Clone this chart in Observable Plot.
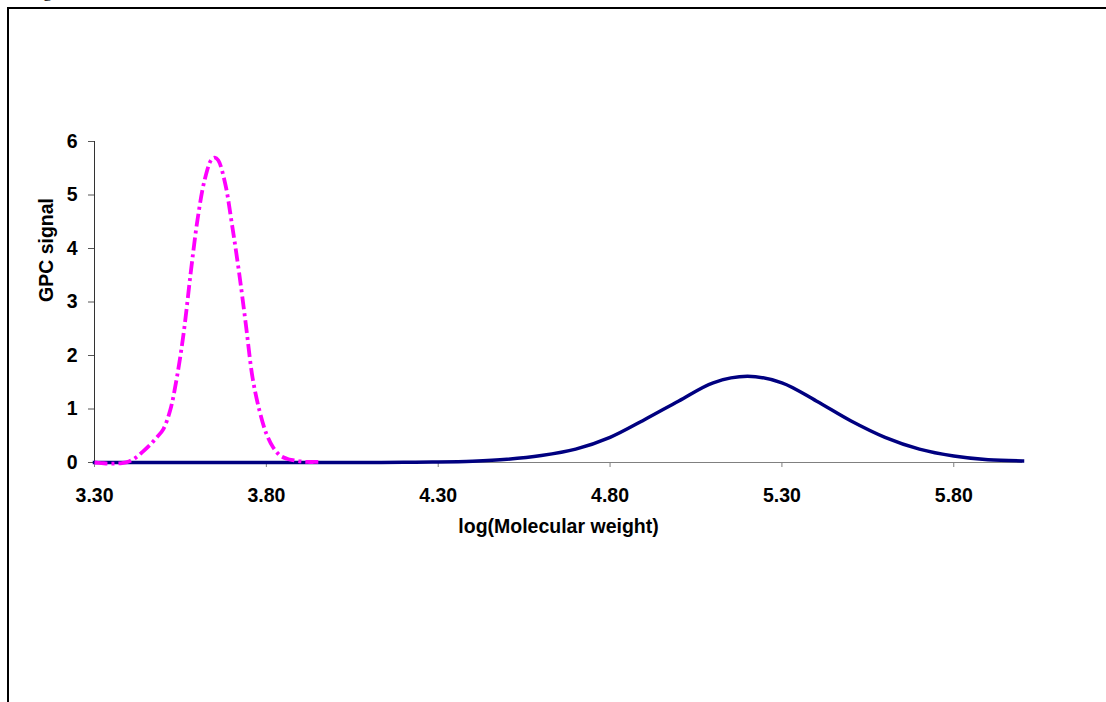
<!DOCTYPE html>
<html>
<head>
<meta charset="utf-8">
<script src="https://cdn.jsdelivr.net/npm/d3@7"></script>
<script src="https://cdn.jsdelivr.net/npm/@observablehq/plot@0.6"></script>
<style>
  html, body { margin: 0; padding: 0; background: #fff; overflow: hidden; }
  #page { position: relative; width: 1106px; height: 702px; overflow: hidden; }
  #border { position: absolute; left: 7px; top: 7px; width: 1300px; height: 900px;
            border-top: 2px solid #000; border-left: 2px solid #000; box-sizing: border-box; }
  #caption { position: absolute; left: 28px; top: -19px; font: 18px "Liberation Serif", "Times New Roman", serif; color: #000; white-space: nowrap; }
  #chart { position: absolute; left: 0; top: 0; }
</style>
</head>
<body>
<div id="page">
  <div id="caption">Figure</div>
  <div id="border"></div>
  <div id="chart"></div>
</div>
<script>
// GPC traces, signal vs log(molecular weight)
const lowX = [3.30, 3.32, 3.34, 3.36, 3.38, 3.40, 3.42, 3.44, 3.46, 3.48, 3.50, 3.52, 3.54, 3.56, 3.58,
              3.60, 3.62, 3.64, 3.65, 3.66, 3.68, 3.70, 3.72, 3.74, 3.76, 3.78, 3.80, 3.82, 3.84, 3.86,
              3.88, 3.90, 3.92, 3.94, 3.96];
const lowY = [0, -0.01, -0.02, -0.02, -0.01, 0.02, 0.09, 0.2, 0.32, 0.46, 0.62, 0.97, 1.6, 2.45, 3.55,
              4.55, 5.27, 5.66, 5.7, 5.65, 5.22, 4.45, 3.58, 2.6, 1.58, 0.97, 0.54, 0.28, 0.13, 0.07,
              0.04, 0.02, 0.01, 0.01, 0.01];

const highX = [3.3, 3.4, 3.5, 3.6, 3.7, 3.8, 3.9, 4.0, 4.1, 4.2, 4.3, 4.4, 4.5, 4.6, 4.7, 4.8, 4.9,
               5.0, 5.1, 5.2, 5.3, 5.4, 5.5, 5.6, 5.7, 5.8, 5.9, 6.0];
const highY = [0, 0, 0, 0, 0, 0, 0, 0, 0, 0.005, 0.01, 0.025, 0.06, 0.13, 0.25, 0.47, 0.8,
               1.15, 1.49, 1.61, 1.49, 1.15, 0.78, 0.47, 0.25, 0.12, 0.05, 0.03];

const xTicks = [3.30, 3.80, 4.30, 4.80, 5.30, 5.80];
const yTicks = [0, 1, 2, 3, 4, 5, 6];

const yTitle = "GPC signal";
const xTitle = "log(Molecular weight)";

const low = lowX.map((x, i) => ({x, y: lowY[i]}));
const high = highX.map((x, i) => ({x, y: highY[i]}));

const chart = Plot.plot({
  width: 1106,
  height: 702,
  marginLeft: 94,
  marginRight: 84,
  marginTop: 141,
  marginBottom: 240,
  style: {
    fontFamily: "'Liberation Sans', Arial, sans-serif",
    fontSize: "19.5px",
    fontWeight: "bold",
    background: "transparent",
    color: "#000"
  },
  x: {domain: [3.3, 6.0]},
  y: {domain: [0, 6]},
  marks: [
    Plot.ruleY([0], {stroke: "#808080", strokeWidth: 1}),
    Plot.axisX({ticks: xTicks, tickFormat: d => d.toFixed(2), tickSize: 5, tickPadding: 21,
                stroke: "#808080", label: null}),
    Plot.axisY({ticks: yTicks, tickFormat: d => String(d), tickSize: 6, tickPadding: 11,
                stroke: "#555", label: null}),
    Plot.ruleX([3.3], {y1: 0, y2: 6, stroke: "#333", strokeWidth: 1}),
    Plot.line(high, {x: "x", y: "y", stroke: "#000080", strokeWidth: 3.5, curve: "catmull-rom",
                     strokeLinecap: "square"}),
    Plot.line(low, {x: "x", y: "y", stroke: "#ff00ff", strokeWidth: 3.8, curve: "catmull-rom",
                    strokeDasharray: "13,4,3,4", strokeLinecap: "butt"}),
    Plot.text([yTitle], {text: d => d, frameAnchor: "left", dx: -48, rotate: -90,
                         fontSize: 19.5, fontWeight: "bold", fill: "#000"}),
    Plot.text([xTitle], {text: d => d, frameAnchor: "bottom", dy: 70,
                         fontSize: 19.5, fontWeight: "bold", fill: "#000"})
  ]
});

document.getElementById("chart").append(chart);
</script>
</body>
</html>
